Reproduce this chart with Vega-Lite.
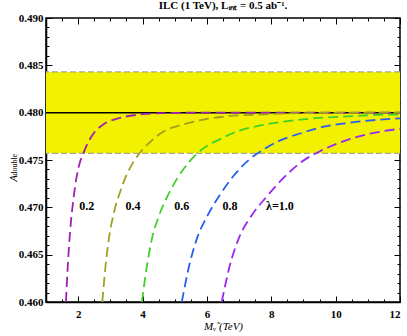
{
  "$schema": "https://vega.github.io/schema/vega-lite/v6.json",
  "width": 354,
  "height": 284,
  "autosize": "none",
  "padding": {"left": 46, "top": 18, "right": 7, "bottom": 34},
  "background": "white",
  "title": {"text": "ILC (1 TeV),  Lᵢₙₜ = 0.5 ab⁻¹.", "font": "Liberation Serif", "fontSize": 11, "fontWeight": "bold", "offset": 1, "anchor": "middle", "color": "black"},
  "config": {
    "view": {"stroke": "black", "strokeWidth": 1.5},
    "axis": {"grid": false, "domainColor": "black", "domainWidth": 1.5, "tickColor": "black", "tickWidth": 1, "labelFont": "Liberation Serif", "labelFontWeight": "bold", "labelFontSize": 11, "labelColor": "black", "titleFont": "Liberation Serif", "titleColor": "black", "titleFontWeight": "normal"}
  },
  "datasets": {
    "curves": [
      {"lam": "0.2", "M": 1.62, "A": 0.4600}, {"lam": "0.2", "M": 1.68, "A": 0.4640}, {"lam": "0.2", "M": 1.75, "A": 0.4675}, {"lam": "0.2", "M": 1.85, "A": 0.4708}, {"lam": "0.2", "M": 1.95, "A": 0.4732}, {"lam": "0.2", "M": 2.05, "A": 0.4747}, {"lam": "0.2", "M": 2.16, "A": 0.4757}, {"lam": "0.2", "M": 2.30, "A": 0.4768}, {"lam": "0.2", "M": 2.50, "A": 0.4779}, {"lam": "0.2", "M": 2.80, "A": 0.4788}, {"lam": "0.2", "M": 3.25, "A": 0.4794}, {"lam": "0.2", "M": 3.90, "A": 0.4798}, {"lam": "0.2", "M": 4.60, "A": 0.47995}, {"lam": "0.2", "M": 6.0, "A": 0.4800}, {"lam": "0.2", "M": 12.0, "A": 0.4800},
      {"lam": "0.4", "M": 2.75, "A": 0.4600}, {"lam": "0.4", "M": 2.85, "A": 0.4638}, {"lam": "0.4", "M": 2.95, "A": 0.4666}, {"lam": "0.4", "M": 3.10, "A": 0.4693}, {"lam": "0.4", "M": 3.30, "A": 0.4716}, {"lam": "0.4", "M": 3.50, "A": 0.4734}, {"lam": "0.4", "M": 3.70, "A": 0.4747}, {"lam": "0.4", "M": 3.95, "A": 0.4759}, {"lam": "0.4", "M": 4.30, "A": 0.4771}, {"lam": "0.4", "M": 4.65, "A": 0.4780}, {"lam": "0.4", "M": 5.20, "A": 0.4787}, {"lam": "0.4", "M": 5.80, "A": 0.4792}, {"lam": "0.4", "M": 6.60, "A": 0.4796}, {"lam": "0.4", "M": 7.60, "A": 0.4798}, {"lam": "0.4", "M": 9.0, "A": 0.47995}, {"lam": "0.4", "M": 12.0, "A": 0.4800},
      {"lam": "0.6", "M": 3.98, "A": 0.4600}, {"lam": "0.6", "M": 4.10, "A": 0.4630}, {"lam": "0.6", "M": 4.30, "A": 0.4668}, {"lam": "0.6", "M": 4.50, "A": 0.4690}, {"lam": "0.6", "M": 4.75, "A": 0.4710}, {"lam": "0.6", "M": 5.05, "A": 0.4729}, {"lam": "0.6", "M": 5.45, "A": 0.4748}, {"lam": "0.6", "M": 5.80, "A": 0.4760}, {"lam": "0.6", "M": 6.35, "A": 0.4771}, {"lam": "0.6", "M": 7.00, "A": 0.4781}, {"lam": "0.6", "M": 7.75, "A": 0.4787}, {"lam": "0.6", "M": 8.50, "A": 0.4791}, {"lam": "0.6", "M": 9.30, "A": 0.4794}, {"lam": "0.6", "M": 10.35, "A": 0.4796}, {"lam": "0.6", "M": 11.7, "A": 0.4798}, {"lam": "0.6", "M": 12.0, "A": 0.4798},
      {"lam": "0.8", "M": 5.22, "A": 0.4600}, {"lam": "0.8", "M": 5.40, "A": 0.4631}, {"lam": "0.8", "M": 5.70, "A": 0.4668}, {"lam": "0.8", "M": 6.00, "A": 0.4690}, {"lam": "0.8", "M": 6.40, "A": 0.4713}, {"lam": "0.8", "M": 6.80, "A": 0.4732}, {"lam": "0.8", "M": 7.30, "A": 0.4750}, {"lam": "0.8", "M": 7.85, "A": 0.4763}, {"lam": "0.8", "M": 8.30, "A": 0.4771}, {"lam": "0.8", "M": 8.90, "A": 0.4778}, {"lam": "0.8", "M": 9.60, "A": 0.4785}, {"lam": "0.8", "M": 10.35, "A": 0.4789}, {"lam": "0.8", "M": 11.15, "A": 0.4792}, {"lam": "0.8", "M": 12.0, "A": 0.4794},
      {"lam": "1.0", "M": 6.46, "A": 0.4600}, {"lam": "1.0", "M": 6.70, "A": 0.4637}, {"lam": "1.0", "M": 7.00, "A": 0.4668}, {"lam": "1.0", "M": 7.40, "A": 0.4692}, {"lam": "1.0", "M": 7.85, "A": 0.4711}, {"lam": "1.0", "M": 8.35, "A": 0.4730}, {"lam": "1.0", "M": 8.90, "A": 0.4747}, {"lam": "1.0", "M": 9.50, "A": 0.4759}, {"lam": "1.0", "M": 10.35, "A": 0.4771}, {"lam": "1.0", "M": 11.10, "A": 0.4778}, {"lam": "1.0", "M": 12.0, "A": 0.4783}
    ],
    "labels": [
      {"text": "0.2", "M": 2.27, "A": 0.4701},
      {"text": "0.4", "M": 3.70, "A": 0.4701},
      {"text": "0.6", "M": 5.22, "A": 0.4701},
      {"text": "0.8", "M": 6.72, "A": 0.4701},
      {"text": "λ=1.0", "M": 8.27, "A": 0.4701}
    ],
    "band": [{"lo": 0.4757, "hi": 0.4843}],
    "edges": [{"A": 0.4757}, {"A": 0.4843}],
    "central": [{"A": 0.480}],
    "sub": [{"text": "double", "M": 0.04, "A": 0.4745}]
  },
  "layer": [
    {
      "data": {"name": "band"},
      "mark": {"type": "rect", "color": "#f2f200"},
      "encoding": {
        "y": {"field": "lo", "type": "quantitative", "scale": {"domain": [0.46, 0.49], "nice": false, "zero": false}, "axis": null},
        "y2": {"field": "hi"}
      }
    },
    {
      "data": {"name": "edges"},
      "mark": {"type": "rule", "color": "#a8a890", "strokeWidth": 1.2, "strokeDash": [6, 3]},
      "encoding": {
        "y": {"field": "A", "type": "quantitative", "scale": {"domain": [0.46, 0.49], "nice": false, "zero": false}, "axis": null}
      }
    },
    {
      "data": {"name": "central"},
      "mark": {"type": "rule", "color": "black", "strokeWidth": 1.5},
      "encoding": {
        "y": {"field": "A", "type": "quantitative", "scale": {"domain": [0.46, 0.49], "nice": false, "zero": false},
          "axis": {"orient": "right", "labels": false, "title": null, "domain": false,
            "values": [0.460,0.461,0.462,0.463,0.464,0.465,0.466,0.467,0.468,0.469,0.470,0.471,0.472,0.473,0.474,0.475,0.476,0.477,0.478,0.479,0.480,0.481,0.482,0.483,0.484,0.485,0.486,0.487,0.488,0.489,0.490],
            "tickSize": {"condition": {"test": "abs(round(datum.value*1000)) % 5 === 0", "value": -6}, "value": -3}}}
      }
    },
    {
      "data": {"name": "curves"},
      "mark": {"type": "line", "strokeWidth": 1.8, "strokeDash": [10, 5], "interpolate": "monotone", "clip": true},
      "encoding": {
        "x": {"field": "M", "type": "quantitative", "scale": {"domain": [1, 12], "nice": false, "zero": false},
          "axis": {"orient": "bottom", "title": "Mᵥ̃ (TeV)", "titleFontSize": 11, "titleFontStyle": "italic", "titleY": 24, "titleBaseline": "middle",
            "values": [1,1.5,2,2.5,3,3.5,4,4.5,5,5.5,6,6.5,7,7.5,8,8.5,9,9.5,10,10.5,11,11.5,12],
            "labelExpr": "datum.value % 2 === 0 ? format(datum.value, 'd') : ''",
            "labelPadding": 12,
            "tickSize": {"condition": {"test": "datum.value % 2 === 0", "value": -6}, "value": -3}}},
        "y": {"field": "A", "type": "quantitative", "scale": {"domain": [0.46, 0.49], "nice": false, "zero": false},
          "axis": {"orient": "left", "title": "A", "titleFontSize": 11, "titleFontStyle": "italic", "titleAngle": -90, "titleX": -33, "titleY": 160, "titleAlign": "center", "titleBaseline": "middle",
            "values": [0.460,0.461,0.462,0.463,0.464,0.465,0.466,0.467,0.468,0.469,0.470,0.471,0.472,0.473,0.474,0.475,0.476,0.477,0.478,0.479,0.480,0.481,0.482,0.483,0.484,0.485,0.486,0.487,0.488,0.489,0.490],
            "labelExpr": "abs(round(datum.value*1000)) % 5 === 0 ? format(datum.value, '.3f') : ''",
            "labelPadding": 9,
            "tickSize": {"condition": {"test": "abs(round(datum.value*1000)) % 5 === 0", "value": -6}, "value": -3}}},
        "color": {"field": "lam", "type": "nominal", "legend": null,
          "scale": {"domain": ["0.2", "0.4", "0.6", "0.8", "1.0"], "range": ["#a020b0", "#a0a020", "#40d028", "#2a5ef0", "#9a28f0"]}}
      }
    },
    {
      "data": {"name": "labels"},
      "mark": {"type": "text", "font": "Liberation Serif", "fontWeight": "bold", "fontSize": 12, "color": "black", "align": "center", "baseline": "middle"},
      "encoding": {
        "x": {"field": "M", "type": "quantitative", "scale": {"domain": [1, 12], "nice": false, "zero": false},
          "axis": {"orient": "top", "labels": false, "title": null, "domain": false,
            "values": [1,1.5,2,2.5,3,3.5,4,4.5,5,5.5,6,6.5,7,7.5,8,8.5,9,9.5,10,10.5,11,11.5,12],
            "tickSize": {"condition": {"test": "datum.value % 2 === 0", "value": -6}, "value": -3}}},
        "y": {"field": "A", "type": "quantitative", "scale": {"domain": [0.46, 0.49], "nice": false, "zero": false}, "axis": null},
        "text": {"field": "text"}
      }
    },
    {
      "data": {"name": "sub"},
      "mark": {"type": "text", "font": "Liberation Serif", "fontSize": 8, "color": "black", "align": "center", "baseline": "middle", "angle": 270, "clip": false},
      "encoding": {
        "x": {"field": "M", "type": "quantitative", "scale": {"domain": [1, 12], "nice": false, "zero": false}, "axis": null},
        "y": {"field": "A", "type": "quantitative", "scale": {"domain": [0.46, 0.49], "nice": false, "zero": false}, "axis": null},
        "text": {"field": "text"}
      }
    }
  ],
  "resolve": {"axis": {"x": "independent", "y": "independent"}}
}
